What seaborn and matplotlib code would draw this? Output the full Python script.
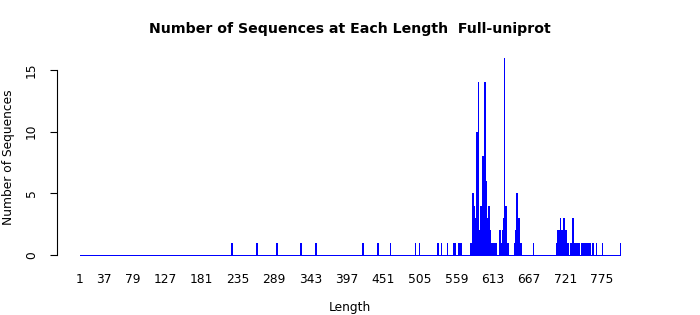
import numpy as np
import pandas as pd
import matplotlib
matplotlib.use("Agg")
import matplotlib.pyplot as plt
import seaborn as sns

# ---- data ----
lengths = [226, 263, 292, 328, 350, 351, 420, 442, 461, 498, 504, 531, 536, 545,
           555, 557, 562, 563, 564, 566, 579, 581, 582,
           583, 584, 585, 586, 587, 588, 589, 590, 591, 592, 593, 594, 595, 596,
           597, 598, 599, 600, 601, 602, 603, 604, 605, 606, 607, 608, 609, 610,
           612, 614, 616, 618, 622, 623, 624, 626, 627, 628, 629, 630, 631, 632,
           633, 635,
           645, 646, 647, 648, 649, 650, 651, 652, 653, 655, 673,
           707, 708, 709, 710, 711, 712, 713, 714, 715, 716, 717, 718, 719, 720,
           721, 722, 724, 728, 729, 731, 733, 735, 737, 739, 740, 744, 746, 748,
           749, 751, 753, 755, 757, 761, 766, 775, 802]
counts = [1, 1, 1, 1, 1, 1, 1, 1, 1, 1, 1, 1, 1, 1,
          1, 1, 1, 1, 1, 1, 1, 1, 1,
          5, 4, 4, 3, 3, 4, 10, 4, 14, 2, 1, 2, 4, 3,
          7, 8, 6, 2, 14, 6, 3, 2, 3, 1, 4, 2, 1, 1,
          1, 1, 1, 1, 2, 2, 1, 1, 2, 3, 1, 16, 2, 4,
          1, 1,
          1, 2, 2, 5, 3, 2, 3, 2, 1, 1, 1,
          1, 1, 2, 2, 2, 1, 3, 2, 2, 2, 1, 3, 2, 2,
          2, 1, 1, 1, 1, 3, 1, 1, 1, 1, 1, 1, 1, 1,
          1, 1, 1, 1, 1, 1, 1, 1, 1]
min_length = 1
max_length = 802
tick_values = [1, 37, 79, 127, 181, 235, 289, 343, 397, 451, 505, 559, 613,
               667, 721, 775]
y_ticks = [0, 5, 10, 15]

sns.set_style("white")
plt.rcParams["font.family"] = ["DejaVu Sans"]
plt.rcParams["text.color"] = "black"
plt.rcParams["xtick.color"] = "black"
plt.rcParams["ytick.color"] = "black"
plt.rcParams["axes.labelcolor"] = "black"

full = pd.Series(counts, index=lengths).reindex(
    range(min_length, max_length + 1), fill_value=0)
df = pd.DataFrame({"Length": full.index, "Count": full.values})

fig = plt.figure(figsize=(7, 3.15), dpi=100)
ax = fig.add_axes([57.3 / 700, 1 - 262.9 / 315, (642.7 - 57.3) / 700,
                   (262.9 - 49.8) / 315])
sns.barplot(data=df, x="Length", y="Count", native_scale=True, color="blue",
            saturation=1, edgecolor="blue", linewidth=0.6, width=0.8,
            errorbar=None, ax=ax)
for p in ax.patches:
    p.set_antialiased(False)

ax.set_xlim(-32.7, 835.4)
ax.set_ylim(-0.64, 16.64)
ax.set_xlabel("")
ax.set_ylabel("")
for s in ["top", "right", "bottom"]:
    ax.spines[s].set_visible(False)
ax.spines["left"].set_bounds(0, 15)
ax.spines["left"].set_color("black")
ax.spines["left"].set_linewidth(0.8)

ax.set_xticks(tick_values)
ax.set_xticklabels([str(v) for v in tick_values], fontsize=8.8)
ax.tick_params(axis="x", length=0, pad=7)
ax.set_yticks(y_ticks)
ax.set_yticklabels([str(v) for v in y_ticks], fontsize=8.8, rotation=90,
                   va="center")
ax.tick_params(axis="y", length=5, width=0.8, direction="out", pad=9,
               color="black", left=True)

fig.text(350 / 700, 1 - 29 / 315,
         "Number of Sequences at Each Length  Full-uniprot",
         ha="center", va="center", fontsize=10.2, fontweight="bold")
fig.text(350 / 700, 1 - 307 / 315, "Length", ha="center", va="center",
         fontsize=8.8)
fig.text(9 / 700, 1 - 157 / 315, "Number of Sequences", ha="center",
         va="center", rotation=90, fontsize=8.8)

fig.savefig("out.png", dpi=100)
